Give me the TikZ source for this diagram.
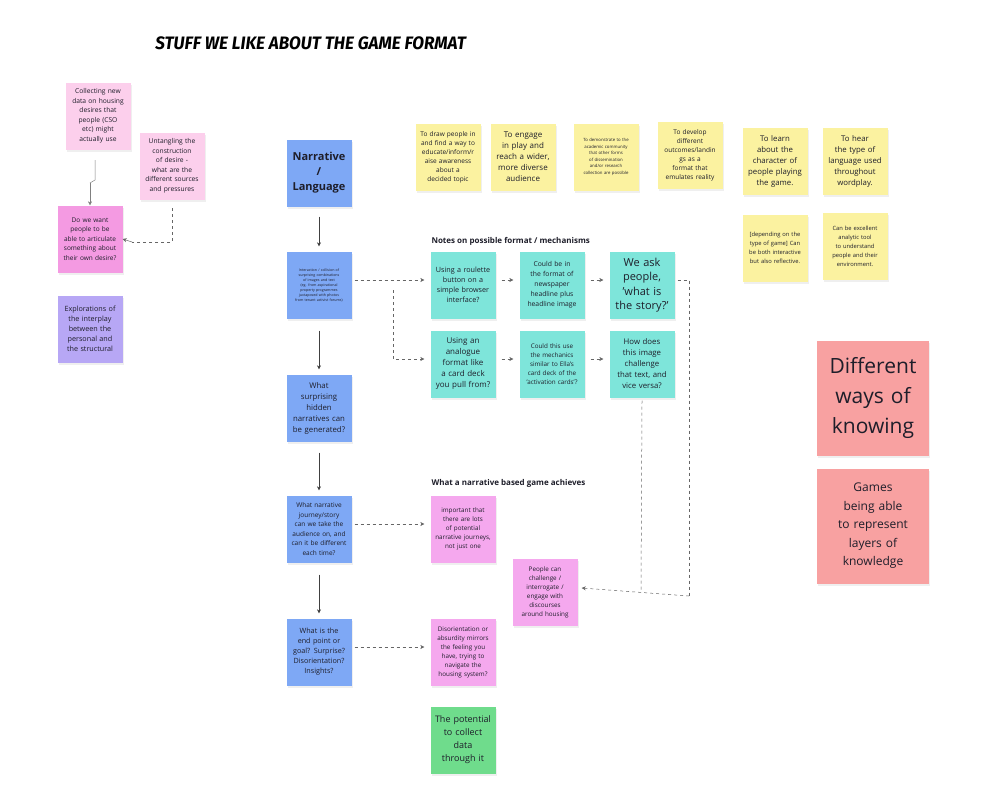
\documentclass[tikz,border=0pt]{standalone}
\usepackage{fontspec}
\setmainfont{Open Sans}
\newfontfamily\titlefont{Fira Sans}
\usetikzlibrary{arrows.meta,shadows}
\definecolor{lpink}{HTML}{FCCFEC}
\definecolor{mpink}{HTML}{F49AE2}
\definecolor{ppink}{HTML}{F5A8EE}
\definecolor{lpurp}{HTML}{B7A7F5}
\definecolor{blu}{HTML}{7EA8F5}
\definecolor{yel}{HTML}{FBF2A0}
\definecolor{teal}{HTML}{7EE5DA}
\definecolor{grn}{HTML}{6FDC8C}
\definecolor{sal}{HTML}{F8A1A1}
\definecolor{ink}{HTML}{1E1E2A}
\hyphenpenalty=10000 \exhyphenpenalty=10000
\tikzset{
 note/.style={minimum width=65pt,minimum height=67pt,text width=57pt,align=center,inner sep=2pt,
  font=\fontsize{7.2}{10}\selectfont,text=ink,drop shadow={opacity=0.12,shadow xshift=1pt,shadow yshift=-2pt}},
 big/.style={note,minimum width=112pt,minimum height=115pt,text width=96pt},
 arr/.style={-{Stealth[length=4pt,width=4pt]},draw=black!75,line width=0.6pt},
 darr/.style={arr,draw=black!60,dashed,line width=0.5pt},
 dline/.style={draw=black!60,dashed,line width=0.5pt},
 hdr/.style={anchor=west,font=\fontsize{8}{10}\selectfont\bfseries,text=ink}
}
\begin{document}
\begin{tikzpicture}[x=1pt,y=-1pt]
\useasboundingbox[fill=white] (0,0) rectangle (1000,790);
\node[anchor=west,font=\titlefont\fontsize{18}{22}\selectfont\bfseries\itshape,text=black,xscale=0.95] (title) at (152,43) {STUFF WE LIKE ABOUT THE GAME FORMAT};
% left
\node[note,fill=lpink,font=\fontsize{6.7}{9.5}\selectfont] (p1) at (98,116) {Collecting new data on housing desires that people (CSO etc) might actually use};
\node[note,fill=lpink,font=\fontsize{6.7}{9.5}\selectfont] (p2) at (172,166) {Untangling the construction of desire - what are the different sources and pressures};
\node[note,fill=mpink,font=\fontsize{6.5}{9.5}\selectfont] (p3) at (90,239) {Do we want people to be able to articulate something about their own desire?};
\node[note,fill=lpurp] (p4) at (90,329) {Explorations of the interplay between the personal and the structural};
\coordinate (c1) at (95,160);
\draw[draw=black!50,line width=0.5pt] (c1) -- (95,180) -- (90,183);
\draw[arr,draw=black!50,line width=0.5pt] (90,183) -- (p3.north);
\coordinate (c2) at (172,208);
\draw[dline] (c2) -- (172,242) -- (132,242);
\draw[arr,draw=black!60,line width=0.5pt] (132,242) -- (p3.east);
% blue column
\node[note,fill=blu,font=\fontsize{11}{15}\selectfont\bfseries,text width=60pt] (b1) at (319,173) {Narrative / Language};
\node[note,fill=blu,font=\fontsize{3.6}{5}\selectfont] (b2) at (319,285) {Interaction / collision of surprising combinations of images and text (eg. from aspirational property programmes juxtaposed with photos from tenant activist forums)};
\node[note,fill=blu,font=\fontsize{7.8}{11}\selectfont] (b3) at (319,408) {What surprising hidden narratives can be generated?};
\node[note,fill=blu,font=\fontsize{6.5}{9.5}\selectfont] (b4) at (319,529) {What narrative journey/story can we take the audience on, and can it be different each time?};
\node[note,fill=blu] (b5) at (319,652) {What is the end point or goal? Surprise? Disorientation? Insights?};
\draw[arr] ([yshift=-10pt]b1.south) -- ([yshift=5pt]b2.north);
\draw[arr] ([yshift=-12pt]b2.south) -- ([yshift=5pt]b3.north);
\draw[arr] ([yshift=-11pt]b3.south) -- ([yshift=5pt]b4.north);
\draw[arr] ([yshift=-12pt]b4.south) -- ([yshift=5pt]b5.north);
% yellow
\node[note,fill=yel,font=\fontsize{6.5}{9}\selectfont] (y1) at (448,157) {To draw people in and find a way to educate/inform/r aise awareness about a decided topic};
\node[note,fill=yel,font=\fontsize{8}{11}\selectfont] (y2) at (523,157) {To engage in play and reach a wider, more diverse audience};
\node[note,fill=yel,font=\fontsize{4.3}{6.5}\selectfont] (y3) at (606,157) {To demonstrate to the academic community that other forms of dissemination and/or research collection are possible};
\node[note,fill=yel,font=\fontsize{6.5}{9}\selectfont] (y4) at (690,155) {To develop different outcomes/landin gs as a format that emulates reality};
\node[note,fill=yel,font=\fontsize{7.8}{11}\selectfont] (y5) at (775,161) {To learn about the character of people playing the game.};
\node[note,fill=yel,font=\fontsize{7.8}{11}\selectfont] (y6) at (855,161) {To hear the type of language used throughout wordplay.};
\node[note,fill=yel,font=\fontsize{5.8}{9}\selectfont] (y7) at (775,248) {[depending on the type of game] Can be both interactive but also reflective.};
\node[note,fill=yel,font=\fontsize{5.8}{9}\selectfont] (y8) at (855,246) {Can be excellent analytic tool to understand people and their environment.};
% teal
\node[hdr] (h1) at (428,241) {Notes on possible format / mechanisms};
\node[note,fill=teal] (t1) at (463,285) {Using a roulette button on a simple browser interface?};
\node[note,fill=teal,font=\fontsize{6.8}{10}\selectfont] (t2) at (552,285) {Could be in the format of newspaper headline plus headline image};
\node[note,fill=teal,font=\fontsize{11}{14.5}\selectfont] (t3) at (642,285) {We ask people, 'what is the story?'};
\node[note,fill=teal,font=\fontsize{8}{11}\selectfont] (t4) at (463,364) {Using an analogue format like a card deck you pull from?};
\node[note,fill=teal,font=\fontsize{6.3}{9}\selectfont] (t5) at (552,364) {Could this use the mechanics similar to Ella's card deck of the 'activation cards'?};
\node[note,fill=teal,font=\fontsize{7.8}{11}\selectfont] (t6) at (642,364) {How does this image challenge that text, and vice versa?};
\draw[darr] ([xshift=3pt,yshift=5pt]b2.east) -- ([xshift=-6pt,yshift=5pt]t1.west);
\draw[darr] (393,290) |- ([xshift=-6pt,yshift=5pt]t4.west);
\draw[darr] ([xshift=6pt,yshift=5pt]t1.east) -- ([xshift=-6pt,yshift=5pt]t2.west);
\draw[darr] ([xshift=6pt,yshift=5pt]t2.east) -- ([xshift=-6pt,yshift=5pt]t3.west);
\draw[darr] ([xshift=6pt,yshift=5pt]t4.east) -- ([xshift=-6pt,yshift=5pt]t5.west);
\draw[darr] ([xshift=6pt,yshift=5pt]t5.east) -- ([xshift=-6pt,yshift=5pt]t6.west);
% achieves
\node[hdr] (h2) at (428,483) {What a narrative based game achieves};
\node[note,fill=ppink,font=\fontsize{6.3}{9}\selectfont] (q1) at (463,529) {important that there are lots of potential narrative journeys, not just one};
\node[note,fill=ppink,font=\fontsize{6.3}{9}\selectfont] (q2) at (463,652) {Disorientation or absurdity mirrors the feeling you have, trying to navigate the housing system?};
\node[note,fill=ppink,font=\fontsize{6.3}{9}\selectfont] (q3) at (545,592) {People can challenge / interrogate / engage with discourses around housing};
\node[note,fill=grn,font=\fontsize{9}{13}\selectfont] (g1) at (463,740) {The potential to collect data through it};
\draw[darr] ([xshift=3pt,yshift=5pt]b4.east) -- ([xshift=-6pt,yshift=5pt]q1.west);
\draw[darr] ([xshift=3pt,yshift=5pt]b5.east) -- ([xshift=-6pt,yshift=5pt]q2.west);
\draw[dline] ([xshift=3pt,yshift=5pt]t3.east) -| (689,596);
\draw[darr] (689,596) -- ([xshift=4pt,yshift=4pt]q3.east);
\draw[dline] ([yshift=-3pt]t6.south) -- (641,590);
% salmon
\node[big,fill=sal,font=\fontsize{21}{30}\selectfont] (s1) at (873,398) {Different ways of knowing};
\node[big,fill=sal,font=\fontsize{12}{18.5}\selectfont,text width=90pt] (s2) at (873,526) {Games being able to represent layers of knowledge};
\end{tikzpicture}
\end{document}
